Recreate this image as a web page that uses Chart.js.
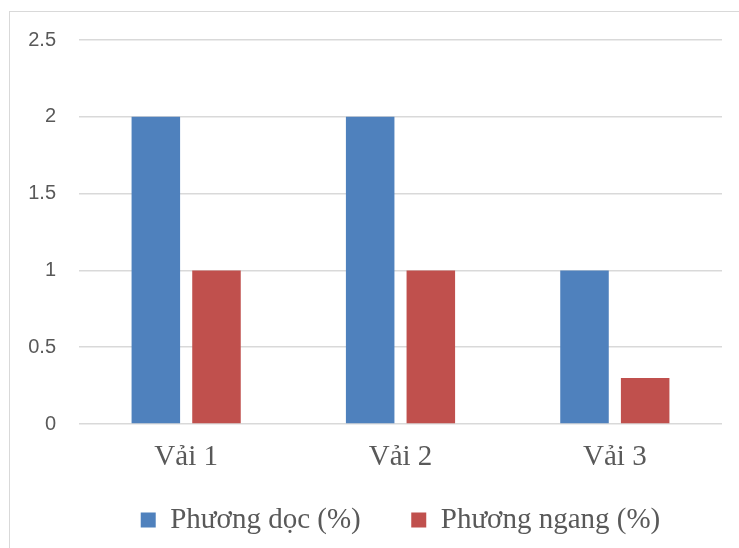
<!DOCTYPE html>
<html lang="vi">
<head>
    <meta charset="UTF-8">
    <title>Vải</title>
    <script src="https://cdn.jsdelivr.net/npm/chart.js@4/dist/chart.umd.min.js"></script>
    <style>
        body { margin: 0; background: #fff; }
        #frame { position: absolute; left: 9px; top: 11px; width: 760px; height: 560px; border: 1.5px solid #d9d9d9; }
        #chart { position: absolute; left: 0; top: 0; }
    </style>
</head>
<body>
<div id="frame"></div>
<canvas id="chart" width="739" height="548"></canvas>
<script>
    // data
    var categories = ["Vải 1", "Vải 2", "Vải 3"];
    var phuongDoc = [2, 2, 1];
    var phuongNgang = [1, 1, 0.3];
    var seriesNames = ["Phương dọc (%)", "Phương ngang (%)"];

    var textColor = "#595959";
    var serif = "'Liberation Serif', 'Times New Roman', serif";

    new Chart(document.getElementById("chart"), {
        type: 'bar',
        data: {
            labels: categories,
            datasets: [
                {
                    label: seriesNames[0],
                    backgroundColor: "#4f81bd",
                    data: phuongDoc
                },
                {
                    label: seriesNames[1],
                    backgroundColor: "#c0504d",
                    data: phuongNgang
                }]
        },
        options: {
            responsive: false,
            animation: false,
            categoryPercentage: 0.566,
            barPercentage: 0.8,
            layout: {
                padding: {left: 27, right: 17, top: 40, bottom: 3.5}
            },
            plugins: {
                tooltip: {enabled: false},
                legend: {
                    position: 'bottom',
                    fullSize: false,
                    labels: {
                        color: textColor,
                        boxWidth: 15,
                        boxHeight: 15,
                        padding: 50.5,
                        font: {family: serif, size: 29}
                    }
                }
            },
            scales: {
                x: {
                    grid: {display: false},
                    border: {display: false},
                    ticks: {
                        color: textColor,
                        // mirrored labels are not clipped to the short axis box,
                        // negative padding pushes them back below the axis
                        mirror: true,
                        padding: -51,
                        font: {family: serif, size: 29}
                    },
                    afterFit: function (scale) {
                        scale.height = 31;
                    }
                },
                y: {
                    min: 0,
                    max: 2.5,
                    grid: {color: "#d9d9d9", lineWidth: 1.5, drawTicks: false},
                    border: {display: false},
                    ticks: {
                        stepSize: 0.5,
                        color: textColor,
                        padding: 23,
                        font: {family: "'Liberation Sans', Arial, sans-serif", size: 20},
                        callback: function (value) {
                            return String(value);
                        }
                    },
                    afterFit: function (scale) {
                        scale.width = 52;
                    }
                }
            }
        }
    });
</script>
</body>
</html>
